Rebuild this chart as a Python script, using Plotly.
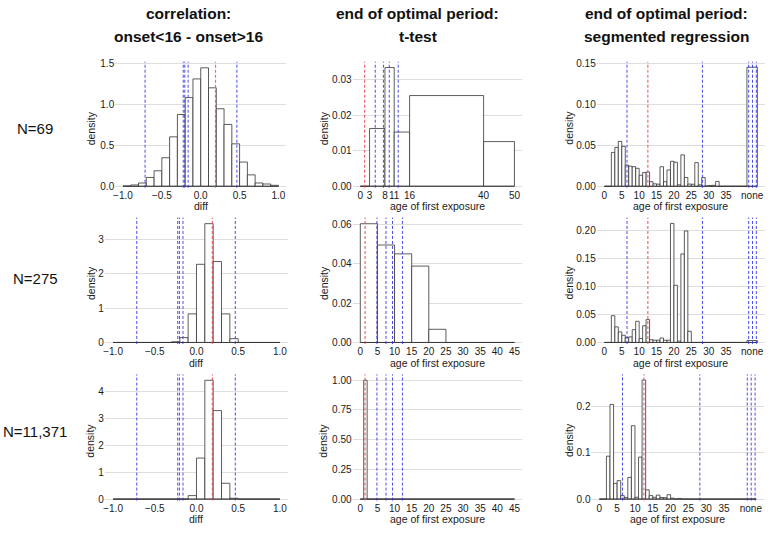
import plotly.graph_objects as go

PAGE_W, PAGE_H = 771, 533

# ---------------- data ----------------
col_titles_top = ["correlation:", "end of optimal period:", "end of optimal period:"]
col_titles_bottom = ["onset<16 - onset>16", "t-test", "segmented regression"]
row_labels = ["N=69", "N=275", "N=11,371"]
x_titles = ["diff", "age of first exposure", "age of first exposure"]

# column 1: correlation difference (bin width 0.1)
diff_edges = [-1.0, -0.9, -0.8, -0.7, -0.6, -0.5, -0.4, -0.3, -0.2, -0.1, 0.0,
              0.1, 0.2, 0.3, 0.4, 0.5, 0.6, 0.7, 0.8, 0.9, 1.0]
diff_dens_69 = [0.004, 0.016, 0.04, 0.108, 0.19, 0.35, 0.606, 0.88, 1.087, 1.316,
                1.452, 1.207, 0.95, 0.758, 0.52, 0.297, 0.14, 0.04, 0.028, 0.012]
diff_dens_275 = [0, 0, 0, 0, 0, 0, 0, 0.02, 0.14, 0.83,
                 2.27, 3.45, 2.35, 0.83, 0.11, 0, 0, 0, 0, 0]
diff_dens_11371 = [0, 0, 0, 0, 0, 0, 0, 0, 0, 0.13,
                   1.53, 4.43, 3.3, 0.59, 0.03, 0, 0, 0, 0, 0]
diff_red = [0.19]
diff_blue = [-0.716, -0.225, -0.205, -0.162, 0.465]
diff_ticks = [-1.0, -0.5, 0.0, 0.5, 1.0]
diff_ticktext = ["\u22121.0", "\u22120.5", "0.0", "0.5", "1.0"]

# column 2: end of optimal period, t-test
tt_edges_69 = [0, 3, 8, 11, 16, 40, 50]
tt_dens_69 = [0, 0.0163, 0.0335, 0.0153, 0.0256, 0.0126]
tt_edges_275 = [0, 5, 10, 15, 20, 25, 30, 35, 40, 45]
tt_dens_275 = [0.0603, 0.0495, 0.045, 0.0388, 0.0067, 0, 0, 0, 0]
tt_edges_11371 = [0, 1, 2, 45]
tt_dens_11371 = [0, 1.0, 0]
tt_red = [1.4]
tt_blue = [4.85, 7.5, 9.4, 12.3]
tt_ticks_69 = [0, 3, 8, 11, 16, 40, 50]
tt_ticks = [0, 5, 10, 15, 20, 25, 30, 35, 40, 45]

# column 3: end of optimal period, segmented regression (1-year bins + "none")
seg_edges = [0, 1, 2, 3, 4, 5, 6, 7, 8, 9, 10, 11, 12, 13, 14, 15, 16, 17, 18, 19, 20,
             21, 22, 23, 24, 25, 26, 27, 28, 29, 30, 31, 32, 33, 34, 35, 36, 37, 38, 39, 40,
             41, 44]
seg_dens_69 = [0, 0, 0.0415, 0.0476, 0.055, 0.049, 0.026, 0.0246, 0.024, 0.022,
               0.0135, 0.0168, 0.0175, 0.0056, 0.003, 0.0026, 0.024, 0.0056, 0.02, 0.0306,
               0.0295, 0.0018, 0.0385, 0.0108, 0.0027, 0.0025, 0.029, 0.0018, 0.0107, 0.0005,
               0.001, 0.0012, 0.006, 0, 0, 0, 0, 0, 0, 0,
               0, 0.146]
seg_dens_275 = [0, 0, 0.048, 0.028, 0.019, 0.013, 0.009, 0.01, 0.023, 0.038,
                0.007, 0.03, 0.041, 0.005, 0.004, 0.004, 0.008, 0.004, 0.004, 0.2136,
                0.1026, 0.0024, 0.1587, 0.2, 0.02, 0, 0, 0, 0, 0,
                0, 0, 0, 0, 0, 0, 0, 0, 0, 0,
                0, 0.0035]
seg_dens_11371 = [0, 0, 0.093, 0.205, 0.034, 0.04, 0.0075, 0.0036, 0.047, 0.159,
                  0.004, 0.091, 0.258, 0.02, 0.0075, 0.004, 0.0086, 0.0036, 0.003, 0.0095,
                  0.002, 0, 0.0014, 0, 0, 0, 0, 0, 0, 0,
                  0, 0, 0, 0, 0, 0, 0, 0, 0, 0,
                  0, 0]
seg_red = [12.5]
seg_blue = [6.5, 28.2, 41.5, 42.6, 43.7]
seg_ticks = [0, 5, 10, 15, 20, 25, 30, 35, 42.5]
seg_ticktext = ["0", "5", "10", "15", "20", "25", "30", "35", "none"]

# y ticks per panel
yticks = [
    [[0.0, 0.5, 1.0, 1.5], [0.0, 0.01, 0.02, 0.03], [0.0, 0.05, 0.10, 0.15]],
    [[0, 1, 2, 3], [0.0, 0.02, 0.04, 0.06], [0.0, 0.05, 0.10, 0.15, 0.20]],
    [[0, 1, 2, 3, 4], [0.0, 0.25, 0.50, 0.75, 1.00], [0.0, 0.1, 0.2]],
]
ytickfmt = [[".1f", ".2f", ".2f"], ["d", ".2f", ".2f"], ["d", ".2f", ".1f"]]

panels = [
    [(diff_edges, diff_dens_69), (tt_edges_69, tt_dens_69), (seg_edges, seg_dens_69)],
    [(diff_edges, diff_dens_275), (tt_edges_275, tt_dens_275), (seg_edges, seg_dens_275)],
    [(diff_edges, diff_dens_11371), (tt_edges_11371, tt_dens_11371), (seg_edges, seg_dens_11371)],
]
vlines = [(diff_red, diff_blue), (tt_red, tt_blue), (seg_red, seg_blue)]

# ---------------- layout geometry (page pixels) ----------------
xpix = [
    [(113.5, 285), (351.5, 521.5), (596.3, 765)],
    [(103, 287), (351.5, 521.5), (596.3, 765)],
    [(103, 287), (351.5, 521.5), (591, 764)],
]
ypix = [(59.5, 187.2), (217.5, 345.5), (376.3, 504.2)]
xranges = [
    [[-1.1, 1.1], [-2.5, 52.5], [-2.2, 46.2]],
    [[-1.1, 1.1], [-2.25, 47.25], [-2.2, 46.2]],
    [[-1.1, 1.1], [-2.25, 47.25], [-2.2, 46.2]],
]
yranges = [
    [[-0.018, 1.527], [-0.00042, 0.03515], [-0.0018, 0.1527]],
    [[-0.043, 3.625], [-0.00075, 0.0634], [-0.0027, 0.2239]],
    [[-0.055, 4.651], [-0.0125, 1.0498], [-0.0032, 0.2702]],
]


def px(x):
    return x / PAGE_W


def py(y):
    return 1 - y / PAGE_H


FONT = "Liberation Sans, Arial, Helvetica, sans-serif"
RED = "rgba(232,70,80,0.8)"
BLUE = "rgba(45,45,230,0.85)"
TXT = "#1a1a1a"
TICK = 10

fig = go.Figure()
layout = dict(
    width=PAGE_W, height=PAGE_H, margin=dict(l=0, r=0, t=0, b=0),
    paper_bgcolor="white", plot_bgcolor="white",
    showlegend=False, barmode="overlay",
    font=dict(family=FONT, color=TXT),
)
shapes = []
annotations = []

for r in range(3):
    for c in range(3):
        k = r * 3 + c + 1
        xa = "x" if k == 1 else f"x{k}"
        ya = "y" if k == 1 else f"y{k}"
        edges, dens = panels[r][c]
        centers = [(edges[i] + edges[i + 1]) / 2 for i in range(len(dens))]
        widths = [edges[i + 1] - edges[i] for i in range(len(dens))]
        # baseline across all bins (empty bins show as a flat line)
        fig.add_trace(go.Scatter(x=[edges[0], edges[-1]], y=[0, 0], mode="lines",
                                 line=dict(color="#333333", width=0.8),
                                 xaxis=xa, yaxis=ya, hoverinfo="skip"))
        fig.add_trace(go.Bar(x=centers, y=dens, width=widths,
                             marker=dict(color="white", line=dict(color="#333333", width=0.8)),
                             xaxis=xa, yaxis=ya))
        x0, x1 = xpix[r][c]
        y0, y1 = ypix[r]
        if c == 0:
            tv, tt = diff_ticks, diff_ticktext
        elif c == 1:
            tv = tt_ticks_69 if r == 0 else tt_ticks
            tt = [str(v) for v in tv]
        else:
            tv, tt = seg_ticks, seg_ticktext
        layout["xaxis" if k == 1 else f"xaxis{k}"] = dict(
            domain=[px(x0), px(x1)], range=xranges[r][c], anchor=ya,
            showgrid=False, zeroline=False, showline=False, ticks="",
            tickvals=tv, ticktext=tt, tickangle=0,
            tickfont=dict(size=TICK, color=TXT), fixedrange=True,
        )
        layout["yaxis" if k == 1 else f"yaxis{k}"] = dict(
            domain=[py(y1), py(y0)], range=yranges[r][c], anchor=xa,
            showgrid=True, gridcolor="#d6d6d6", gridwidth=0.8,
            zeroline=False, showline=False, ticks="",
            tickvals=yticks[r][c], tickformat=ytickfmt[r][c],
            tickfont=dict(size=TICK, color=TXT), fixedrange=True,
        )
        reds, blues = vlines[c]
        for v in blues:
            shapes.append(dict(type="line", xref=xa, yref=f"{ya} domain", x0=v, x1=v, y0=0, y1=1,
                               line=dict(color=BLUE, width=1, dash="3px,2px")))
        for v in reds:
            shapes.append(dict(type="line", xref=xa, yref=f"{ya} domain", x0=v, x1=v, y0=0, y1=1,
                               line=dict(color=RED, width=1.2, dash="3px,2px")))

# axis titles
xt_y = [206, 364.5, 523]
yt_x = [88.7, 322.3, 568.3]
yt_y = [126.5, 283.3, 443]
for r in range(3):
    for c in range(3):
        x0, x1 = xpix[r][c]
        annotations.append(dict(text=x_titles[c], x=px((x0 + x1) / 2), y=py(xt_y[r]),
                                xref="paper", yref="paper", showarrow=False,
                                xanchor="center", yanchor="middle",
                                font=dict(size=10.5, family=FONT, color=TXT)))
        annotations.append(dict(text="density", x=px(yt_x[c]), y=py(yt_y[r]),
                                xref="paper", yref="paper", showarrow=False, textangle=-90,
                                xanchor="center", yanchor="middle",
                                font=dict(size=10.5, family=FONT, color=TXT)))

# column titles
title_x = [186.5, 417, 666]
for c in range(3):
    annotations.append(dict(text=f"<b>{col_titles_top[c]}</b>", x=px(title_x[c]), y=py(10.5),
                            xref="paper", yref="paper", showarrow=False,
                            xanchor="center", yanchor="middle",
                            font=dict(size=15.5, family=FONT, color="#111111")))
    annotations.append(dict(text=f"<b>{col_titles_bottom[c]}</b>", x=px(title_x[c]), y=py(33.5),
                            xref="paper", yref="paper", showarrow=False,
                            xanchor="center", yanchor="middle",
                            font=dict(size=15.5, family=FONT, color="#111111")))

# row labels
row_y = [127, 279, 434]
for r in range(3):
    annotations.append(dict(text=row_labels[r], x=px(33.5), y=py(row_y[r]),
                            xref="paper", yref="paper", showarrow=False,
                            xanchor="center", yanchor="middle",
                            font=dict(size=15, family=FONT, color="#111111")))

layout["shapes"] = shapes
layout["annotations"] = annotations
fig.update_layout(**layout)
# place the figure flush with the page corner (remove the browser's default body margin)
fig.write_html("out.html", config={"displayModeBar": False, "staticPlot": True},
               post_script="document.body.style.margin='0';")
